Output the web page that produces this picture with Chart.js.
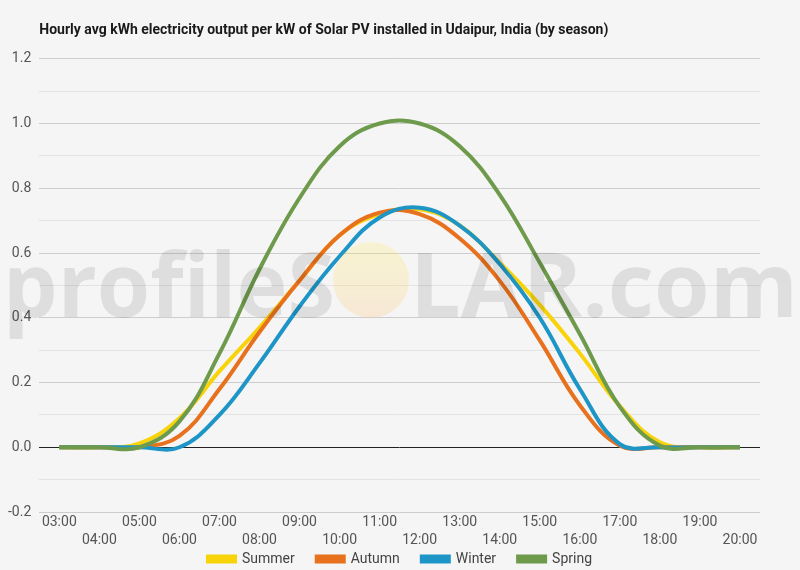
<!DOCTYPE html>
<html>
<head>
<meta charset="utf-8">
<script src="https://cdn.jsdelivr.net/npm/chart.js@4/dist/chart.umd.min.js"></script>
<style>
  html, body { margin: 0; padding: 0; background: #f5f5f5; }
  #wrap { width: 800px; height: 570px; position: relative; }
</style>
</head>
<body>
<div id="wrap"><canvas id="c"></canvas></div>
<script>
// ---- data ----
const hours = ['03:00','04:00','05:00','06:00','07:00','08:00','09:00','10:00','11:00','12:00','13:00','14:00','15:00','16:00','17:00','18:00','19:00','20:00'];
const summer = [0, 0, 0.012, 0.09, 0.235, 0.37, 0.515, 0.655, 0.72, 0.735, 0.685, 0.57, 0.44, 0.29, 0.127, 0.015, 0, 0];
const autumn = [0, 0, 0, 0.035, 0.18, 0.356, 0.515, 0.655, 0.725, 0.72, 0.645, 0.514, 0.33, 0.13, 0.005, 0, 0, 0];
const winter = [0, 0, 0, 0, 0.10, 0.26, 0.435, 0.59, 0.71, 0.74, 0.685, 0.566, 0.40, 0.18, 0.01, 0, 0, 0];
const spring = [0, 0, 0, 0.08, 0.29, 0.55, 0.77, 0.93, 1.0, 1.0, 0.93, 0.78, 0.57, 0.35, 0.125, 0.005, 0, 0];
const seriesNames = ['Summer', 'Autumn', 'Winter', 'Spring'];
const titleText = 'Hourly avg kWh electricity output per kW of Solar PV installed in Udaipur, India (by season)';
const watermarkLeft = 'profileS';
const watermarkRight = 'LAR.com';

const colors = ['#F8D30A', '#E8711D', '#1E95C7', '#6E9A4B'];
const seriesData = [summer, autumn, winter, spring];

const watermark = {
  id: 'watermark',
  afterLayout(chart) {
    // let the two-row x labels draw past the shortened axis box
    const s = chart.scales.x;
    s.bottom = s.top + 44;
    // centre the legend on the full canvas width
    if (chart.legend) {
      chart.legend.left += 20;
      chart.legend.right += 20;
    }
  },
  afterDatasetsDraw(chart) {
    const ctx = chart.ctx;
    ctx.save();
    ctx.font = '700 90px "Open Sans"';
    ctx.textBaseline = 'alphabetic';
    ctx.fillStyle = 'rgba(0,0,0,0.09)';
    const base = 317;
    let w = ctx.measureText(watermarkLeft).width;
    ctx.save();
    ctx.translate(3, base);
    ctx.scale(332 / w, 1);
    ctx.fillText(watermarkLeft, 0, 0);
    ctx.restore();
    const cx = 371, cy = 280, r = 38;
    const g = ctx.createLinearGradient(0, cy - r, 0, cy + r);
    g.addColorStop(0, 'rgba(255,240,110,0.26)');
    g.addColorStop(1, 'rgba(250,200,140,0.30)');
    ctx.fillStyle = g;
    ctx.beginPath();
    ctx.arc(cx, cy, r, 0, Math.PI * 2);
    ctx.fill();
    ctx.fillStyle = 'rgba(0,0,0,0.09)';
    w = ctx.measureText(watermarkRight).width;
    ctx.translate(410, base);
    ctx.scale(388 / w, 1);
    ctx.fillText(watermarkRight, 0, 0);
    ctx.restore();
  }
};

new Chart(document.getElementById('c'), {
  type: 'line',
  data: {
    labels: hours,
    datasets: seriesData.map((d, i) => ({
      label: seriesNames[i],
      data: d,
      borderColor: colors[i],
      backgroundColor: colors[i],
      borderWidth: 4,
      pointRadius: 0,
      pointHoverRadius: 0,
      tension: 0.4,
      fill: false,
      order: 4 - i
    }))
  },
  plugins: [watermark],
  options: {
    responsive: true,
    maintainAspectRatio: false,
    animation: false,
    layout: { padding: { left: 0, right: 40, top: 4, bottom: 0 } },
    plugins: {
      tooltip: { enabled: false },
      title: {
        display: true,
        text: titleText,
        align: 'start',
        fullSize: false,
        color: '#1a1a1a',
        font: { family: 'Roboto', size: 14, weight: 'bold' },
        padding: { top: 18, bottom: 20 }
      },
      legend: {
        position: 'bottom',
        maxHeight: 40,
        labels: {
          boxWidth: 27,
          boxHeight: 5,
          padding: 22,
          color: '#444',
          font: { family: 'Roboto', size: 14 },
          sort: (a, b) => a.datasetIndex - b.datasetIndex
        }
      }
    },
    scales: {
      x: {
        offset: true,
        grid: { display: false, drawTicks: false },
        border: { display: false },
        afterFit: (scale) => { scale.height = 18; },
        ticks: {
          autoSkip: false,
          maxRotation: 0,
          minRotation: 0,
          padding: 2,
          color: '#555',
          font: { family: 'Roboto', size: 14, lineHeight: 1.285 },
          callback: function (value, index) {
            const l = this.getLabelForValue(value);
            return index % 2 ? ['', l] : l;
          }
        }
      },
      y: {
        min: -0.2,
        max: 1.2,
        border: { display: false },
        grid: {
          drawTicks: false,
          lineWidth: 1,
          color: (c) => {
            const v = Math.round(c.tick.value * 10);
            if (v === 0) return '#222';
            return v % 2 === 0 ? '#cdcdcd' : '#e3e3e3';
          }
        },
        ticks: {
          stepSize: 0.1,
          padding: 8,
          color: '#555',
          font: { family: 'Roboto', size: 14 },
          callback: (v) => {
            const n = Math.round(v * 10);
            return n % 2 === 0 ? (n / 10).toFixed(1) : '';
          }
        }
      }
    }
  }
});
</script>
</body>
</html>
